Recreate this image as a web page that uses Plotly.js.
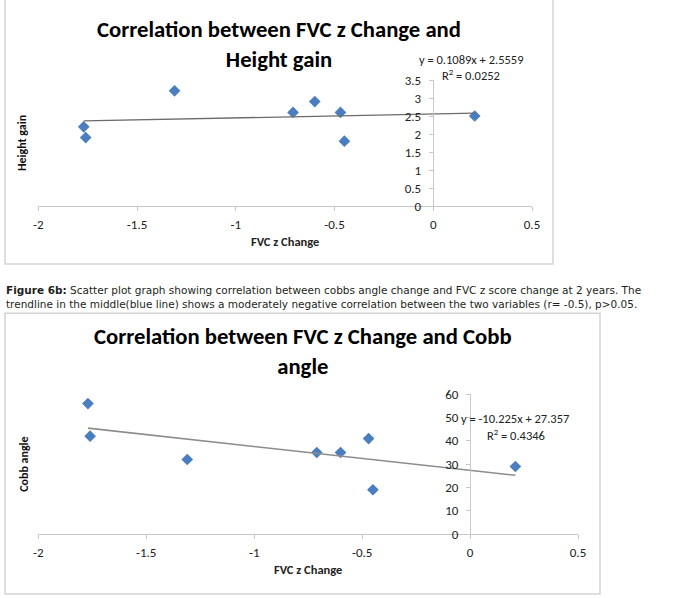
<!DOCTYPE html>
<html>
<head>
<meta charset="utf-8">
<script src="https://cdn.plot.ly/plotly-3.0.1.min.js"></script>
<style>html,body{margin:0;padding:0;background:#fff;}#chart{width:684px;height:598px;}</style>
</head>
<body>
<div id="chart"></div>
<script>
// ---- data ----
const fvcChange  = [-1.77, -1.76, -1.31, -0.71, -0.60, -0.47, -0.45, 0.21];
const heightGain = [2.2, 1.9, 3.2, 2.6, 2.9, 2.6, 1.8, 2.5];
const cobbAngle  = [56, 42, 32, 35, 35, 41, 19, 29];
const trendHeight = [0.1089, 2.5559];   // slope, intercept
const r2Height = '0.0252';
const trendCobb = [-10.225, 27.357];
const r2Cobb = '0.4346';
const xTickVals = [-2, -1.5, -1, -0.5, 0, 0.5];
const xTickText = ['-2', '-1.5', '-1', '-0.5', '0', '0.5'];
const yTickVals1 = [0, 0.5, 1, 1.5, 2, 2.5, 3, 3.5];
const yTickText1 = ['0', '0.5', '1', '1.5', '2', '2.5', '3', '3.5'];
const yTickVals2 = [0, 10, 20, 30, 40, 50, 60];
const yTickText2 = ['0', '10', '20', '30', '40', '50', '60'];
const title1 = ['Correlation between FVC z Change and', 'Height gain'];
const title2 = ['Correlation between FVC z Change and Cobb', 'angle'];
const xTitle = 'FVC z Change';
const yTitle1 = 'Height gain';
const yTitle2 = 'Cobb angle';
const captionBold = 'Figure 6b:';
const captionLine1 = ' Scatter plot graph showing correlation between cobbs angle change and FVC z score change at 2 years. The';
const captionLine2 = 'trendline in the middle(blue line) shows a moderately negative correlation between the two variables (r= -0.5), p>0.05.';

// ---- helpers ----
const W = 684, H = 598;
const PX = v => v / W;
const PY = v => 1 - v / H;
const FONT = "Carlito, Calibri, 'Liberation Sans Narrow', 'Arial Narrow', 'Roboto Condensed', sans-serif";
const CAPFONT = "'Century Gothic', 'URW Gothic', 'DejaVu Sans', sans-serif";
const blue = '#4a7ebf';
const xmin = Math.min(...fvcChange), xmax = Math.max(...fvcChange);
const line = (c, x) => c[0] * x + c[1];
const fmtEq = c => 'y = ' + c[0] + 'x + ' + c[1];

const traces = [
  {x: fvcChange, y: heightGain, xaxis: 'x', yaxis: 'y', type: 'scatter', mode: 'markers',
   marker: {symbol: 'diamond', size: 9, color: blue}},
  {x: [xmin, xmax], y: [line(trendHeight, xmin), line(trendHeight, xmax)], xaxis: 'x', yaxis: 'y',
   type: 'scatter', mode: 'lines', line: {color: '#6b6b6b', width: 1.3}},
  {x: fvcChange, y: cobbAngle, xaxis: 'x2', yaxis: 'y2', type: 'scatter', mode: 'markers',
   marker: {symbol: 'diamond', size: 9, color: blue}},
  {x: [xmin, xmax], y: [line(trendCobb, xmin), line(trendCobb, xmax)], xaxis: 'x2', yaxis: 'y2',
   type: 'scatter', mode: 'lines', line: {color: '#8c8c8c', width: 1.6}}
];

const axisCommon = {
  showgrid: false, zeroline: false, showline: true, linecolor: '#c8c8c8', linewidth: 1,
  ticks: 'outside', ticklen: 4, tickcolor: '#c8c8c8', tickmode: 'array', automargin: false,
  tickfont: {family: FONT, size: 13, color: '#222'}, fixedrange: true
};
const axTitleFont = {family: FONT, size: 12.5, color: '#222'};
const yTitleFont = {family: FONT, size: 12, color: '#111'};

const layout = {
  width: W, height: H, margin: {l: 0, r: 0, t: 0, b: 0},
  paper_bgcolor: '#fff', plot_bgcolor: 'rgba(0,0,0,0)', showlegend: false,
  title: {text: '<b>' + title1[0] + '</b><br><b>' + title1[1] + '</b>',
          x: PX(279), xanchor: 'center', xref: 'paper', y: PY(37.2), yanchor: 'middle', yref: 'paper',
          font: {family: FONT, size: 22.7, color: '#000'}},
  xaxis: Object.assign({}, axisCommon, {
    domain: [PX(38.3), PX(532)], range: [-2, 0.5], anchor: 'y',
    tickvals: xTickVals, ticktext: xTickText, ticklabelstandoff: 2,
    title: {text: '<b>' + xTitle + '</b>', font: axTitleFont, standoff: 6}
  }),
  yaxis: Object.assign({}, axisCommon, {
    domain: [PY(206), PY(80)], range: [0, 3.5], anchor: 'free', position: PX(432.7), side: 'left',
    tickvals: yTickVals1, ticktext: yTickText1, ticklabelstandoff: 5,
    title: {text: '<b>' + yTitle1 + '</b>', font: yTitleFont, standoff: 374}
  }),
  xaxis2: Object.assign({}, axisCommon, {
    domain: [PX(38.3), PX(578)], range: [-2, 0.5], anchor: 'y2',
    tickvals: xTickVals, ticktext: xTickText, ticklabelstandoff: 2,
    title: {text: '<b>' + xTitle + '</b>', font: axTitleFont, standoff: 6}
  }),
  yaxis2: Object.assign({}, axisCommon, {
    domain: [PY(534), PY(394.3)], range: [0, 60], anchor: 'free', position: PX(470), side: 'left',
    tickvals: yTickVals2, ticktext: yTickText2, ticklabelstandoff: 5,
    title: {text: '<b>' + yTitle2 + '</b>', font: yTitleFont, standoff: 413}
  }),
  shapes: [
    {type: 'rect', xref: 'paper', yref: 'paper', x0: PX(5), x1: PX(553), y0: PY(264), y1: PY(-5),
     line: {color: '#d4d4d4', width: 1.5}, fillcolor: 'rgba(0,0,0,0)', layer: 'below'},
    {type: 'rect', xref: 'paper', yref: 'paper', x0: PX(5), x1: PX(600), y0: PY(594), y1: PY(313.3),
     line: {color: '#d4d4d4', width: 1.5}, fillcolor: 'rgba(0,0,0,0)', layer: 'below'}
  ],
  annotations: [
    {text: '<b>' + title2[0] + '</b><br><b>' + title2[1] + '</b>', x: PX(302.5), y: PY(351.3)}
  ].map(a => Object.assign(a, {xref: 'paper', yref: 'paper', xanchor: 'center', yanchor: 'middle',
        showarrow: false, font: {family: FONT, size: 22.7, color: '#000'}}))
  .concat([
    {text: fmtEq(trendHeight), x: PX(471), y: PY(59.3)},
    {text: 'R<sup>2</sup> = ' + r2Height, x: PX(470.7), y: PY(75)},
    {text: fmtEq(trendCobb), x: PX(514.8), y: PY(418.3)},
    {text: 'R<sup>2</sup> = ' + r2Cobb, x: PX(515.7), y: PY(435)}
  ].map(a => Object.assign(a, {xref: 'paper', yref: 'paper', xanchor: 'center', yanchor: 'middle',
        showarrow: false, font: {family: FONT, size: 12.5, color: '#222'}})))
  .concat([
    {text: '<b>' + captionBold + '</b>' + captionLine1, x: PX(4), y: PY(290.2)},
    {text: captionLine2, x: PX(4), y: PY(303.8)}
  ].map(a => Object.assign(a, {xref: 'paper', yref: 'paper', xanchor: 'left', yanchor: 'middle',
        showarrow: false, font: {family: CAPFONT, size: 10.5, color: '#231f20'}})))
};

Plotly.newPlot('chart', traces, layout, {displayModeBar: false, staticPlot: true});
</script>
</body>
</html>
